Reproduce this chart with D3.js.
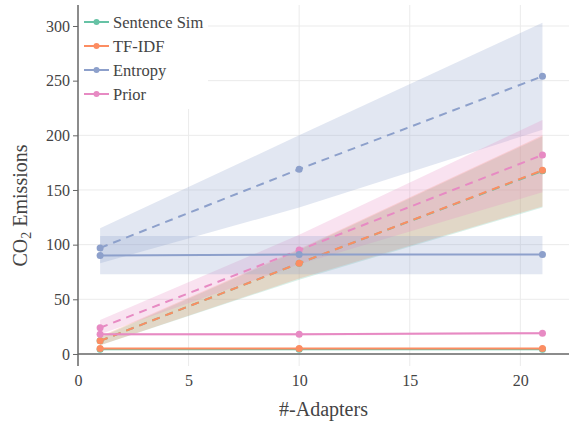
<!DOCTYPE html>
<html><head><meta charset="utf-8">
<script src="https://cdn.jsdelivr.net/npm/d3@7"></script>
<style>body{margin:0;background:#fff}svg{display:block}</style>
</head><body>
<svg id="c" width="569" height="421" font-family="Liberation Serif"></svg>
<script>
const xs = [1, 10, 21];
const seriesNames = ["Sentence Sim", "TF-IDF", "Entropy", "Prior"];
const colors = ["#66c2a5", "#fc8d62", "#8da0cb", "#e78ac3"];
// solid lines (mean, lower, upper)
const sentSolid = [4.3, 4.3, 4.3], sentSolidLo = [4, 4, 4], sentSolidHi = [5, 5, 5];
const tfidfSolid = [5, 5, 5], tfidfSolidLo = [4.5, 4.5, 4.5], tfidfSolidHi = [5.5, 5.5, 5.5];
const entSolid = [90, 91, 91], entSolidLo = [73, 73, 73], entSolidHi = [108, 108, 108];
const priorSolid = [18, 18, 19], priorSolidLo = [17, 17, 18], priorSolidHi = [19, 19, 20];
// dashed lines (mean, lower, upper)
const sentDash = [12, 83, 167.5], sentDashLo = [8, 68, 134], sentDashHi = [15, 95, 199];
const tfidfDash = [12, 83, 168], tfidfDashLo = [8, 69, 135], tfidfDashHi = [16, 96, 200];
const entDash = [97, 169, 254], entDashLo = [83, 134, 205], entDashHi = [115, 200, 303];
const priorDash = [24, 95, 182], priorDashLo = [18, 82, 148], priorDashHi = [31, 109, 214];
const yTicks = [0, 50, 100, 150, 200, 250, 300];
const xTicks = [0, 5, 10, 15, 20];

const series = [
  {c:0, m:sentDash, lo:sentDashLo, hi:sentDashHi, dash:true},
  {c:1, m:tfidfDash, lo:tfidfDashLo, hi:tfidfDashHi, dash:true},
  {c:2, m:entDash, lo:entDashLo, hi:entDashHi, dash:true},
  {c:3, m:priorDash, lo:priorDashLo, hi:priorDashHi, dash:true},
  {c:0, m:sentSolid, lo:sentSolidLo, hi:sentSolidHi, dash:false},
  {c:1, m:tfidfSolid, lo:tfidfSolidLo, hi:tfidfSolidHi, dash:false},
  {c:2, m:entSolid, lo:entSolidLo, hi:entSolidHi, dash:false},
  {c:3, m:priorSolid, lo:priorSolidLo, hi:priorSolidHi, dash:false},
];

const FF = "Liberation Serif";
const svg = d3.select("#c");
const L = 78, R = 569, T = 5, B = 366;
const x = d3.scaleLinear().domain([0, 22.2]).range([L, R]);
const y = d3.scaleLinear().domain([-11, 319.2]).range([B, T]);

// gridlines
const g = svg.append("g");
g.selectAll("line.gx").data(xTicks.filter(d => d > 0)).join("line")
  .attr("x1", d => x(d)).attr("x2", d => x(d)).attr("y1", T).attr("y2", B)
  .attr("stroke", "#ebebeb").attr("stroke-width", 1);
g.selectAll("line.gy").data(yTicks.filter(d => d > 0)).join("line")
  .attr("x1", L).attr("x2", R).attr("y1", d => y(d)).attr("y2", d => y(d))
  .attr("stroke", "#ebebeb").attr("stroke-width", 1);

// bands
const area = d3.area().x((d, i) => x(xs[i])).y0(d => y(d[0])).y1(d => y(d[1]));
series.forEach(s => {
  svg.append("path").datum(s.lo.map((v, i) => [v, s.hi[i]]))
    .attr("d", area).attr("fill", colors[s.c]).attr("fill-opacity", 0.25);
});

// zero line
svg.append("line").attr("x1", L).attr("x2", R).attr("y1", y(0)).attr("y2", y(0))
  .attr("stroke", "#666").attr("stroke-width", 1.5);

// lines
const line = d3.line().x((d, i) => x(xs[i])).y(d => y(d));
series.forEach(s => {
  svg.append("path").datum(s.m).attr("d", line).attr("fill", "none")
    .attr("stroke", colors[s.c]).attr("stroke-width", 2)
    .attr("stroke-dasharray", s.dash ? "8,6" : null);
  svg.selectAll(null).data(s.m).join("circle")
    .attr("cx", (d, i) => x(xs[i])).attr("cy", d => y(d)).attr("r", 3.5)
    .attr("fill", colors[s.c]);
});

// y axis
const ya = svg.append("g").attr("transform", `translate(${L},0)`)
  .call(d3.axisLeft(y).tickValues(yTicks).tickSize(5).tickPadding(3));
ya.attr("font-family", FF);
ya.select(".domain").attr("stroke", "#666").attr("stroke-width", 1.5).attr("d", `M0,${T}V${B}`);
ya.selectAll(".tick line").attr("stroke", "#666");
ya.selectAll(".tick text").attr("font-family", FF).attr("font-size", 16).attr("fill", "#444");

// x axis labels
const xa = svg.append("g").attr("transform", `translate(0,${B})`)
  .call(d3.axisBottom(x).tickValues(xTicks).tickSize(0).tickPadding(9));
xa.attr("font-family", FF);
xa.select(".domain").remove();
xa.selectAll(".tick text").attr("font-family", FF).attr("font-size", 16).attr("fill", "#444");

// axis titles
svg.append("text").attr("x", (L + R) / 2).attr("y", 416).attr("text-anchor", "middle")
  .attr("font-family", FF).attr("font-size", 20).attr("fill", "#444").text("#-Adapters");
const yt = svg.append("text").attr("transform", `translate(27,${(T + B) / 2 + 20}) rotate(-90)`)
  .attr("text-anchor", "middle").attr("font-family", FF).attr("font-size", 20).attr("fill", "#444");
yt.append("tspan").text("CO");
yt.append("tspan").attr("font-size", 14).attr("dy", 4).text("2");
yt.append("tspan").attr("dy", -4).text(" Emissions");

// legend
const lg = svg.append("g");
lg.append("rect").attr("x", L + 1).attr("y", T).attr("width", 129).attr("height", 104).attr("fill", "#fff");
seriesNames.forEach((n, i) => {
  const yy = 22 + i * 24;
  lg.append("line").attr("x1", 84).attr("x2", 109).attr("y1", yy).attr("y2", yy)
    .attr("stroke", colors[i]).attr("stroke-width", 2);
  lg.append("circle").attr("cx", 96.5).attr("cy", yy).attr("r", 3).attr("fill", colors[i]);
  lg.append("text").attr("x", 113).attr("y", yy).attr("dy", "0.35em")
    .attr("font-family", FF).attr("font-size", 16.5).attr("fill", "#444").text(n);
});
</script>
</body></html>
